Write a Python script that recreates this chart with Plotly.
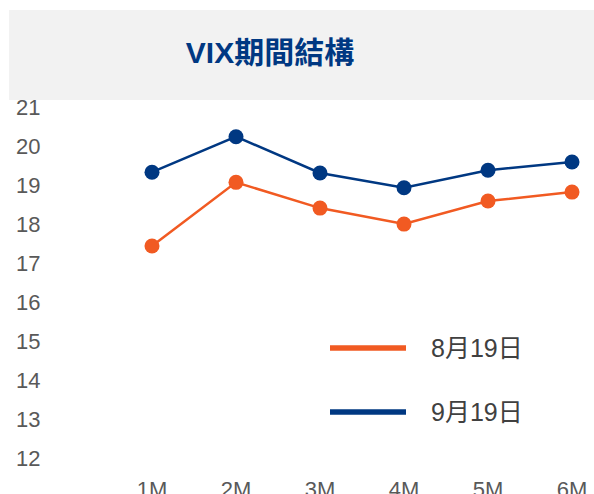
import plotly.graph_objects as go

# Data
tenors = ["1M", "2M", "3M", "4M", "5M", "6M"]
aug19 = [17.44, 19.07, 18.41, 18.0, 18.59, 18.82]
sep19 = [19.33, 20.24, 19.31, 18.93, 19.38, 19.59]
series_names = ["8月19日", "9月19日"]
series_colors = ["#F15A22", "#003882"]
y_ticks = list(range(12, 22))

W, H = 594, 494
L, R, T, B = 48, 0, 100, 28  # plot margins in px
pw, ph = W - L - R, H - T - B


def px_x(x):
    return (x - L) / pw


def px_y(y):
    return (H - B - y) / ph


fig = go.Figure()
for vals, color in zip([aug19, sep19], series_colors):
    fig.add_trace(go.Scatter(
        x=tenors, y=vals, mode="lines+markers",
        line=dict(color=color, width=2.5),
        marker=dict(color=color, size=15),
        showlegend=False, cliponaxis=False,
    ))

# title band
shapes = [dict(type="rect", xref="paper", yref="paper",
               x0=px_x(9), x1=px_x(W), y0=px_y(100), y1=px_y(10),
               fillcolor="#F2F2F2", line_width=0, layer="below")]

# hand-made legend (long line swatches)
annotations = []
for i, (name, color) in enumerate(zip(series_names, series_colors)):
    ly = px_y(348 + 64 * i)
    shapes.append(dict(type="line", xref="paper", yref="paper",
                       x0=px_x(330), x1=px_x(406), y0=ly, y1=ly,
                       line=dict(color=color, width=5.5)))
    annotations.append(dict(xref="paper", yref="paper", x=px_x(429), y=ly,
                            xanchor="left", yanchor="middle", showarrow=False,
                            text=name,
                            font=dict(size=25, color="#404040",
                                      family="Liberation Sans, Noto Sans CJK TC")))

fig.update_layout(
    width=W, height=H,
    margin=dict(l=L, r=R, t=T, b=B),
    paper_bgcolor="white", plot_bgcolor="white",
    title=dict(text="<b>VIX期間結構</b>", x=270 / W, xanchor="center",
               y=1 - 52 / H, yanchor="middle",
               font=dict(size=30, color="#003882",
                         family="Liberation Sans, Noto Sans CJK TC")),
    shapes=shapes,
    annotations=annotations,
    font=dict(family="Liberation Sans, Arial", color="#595959", size=22),
    xaxis=dict(type="category", range=[(L - 152) / 84, (W - 152) / 84],
               showgrid=False, zeroline=False, showline=False, automargin=False,
               ticks="outside", ticklen=4, tickcolor="rgba(0,0,0,0)",
               tickfont=dict(size=22, color="#595959")),
    yaxis=dict(range=[11.8, 21.18], tickvals=y_ticks,
               showgrid=False, zeroline=False, showline=False, automargin=False,
               ticks="outside", ticklen=2, tickcolor="rgba(0,0,0,0)",
               tickfont=dict(size=22, color="#595959")),
)

fig.write_html("out.html", config={"displayModeBar": False},
               post_script="document.body.style.margin='0';")
